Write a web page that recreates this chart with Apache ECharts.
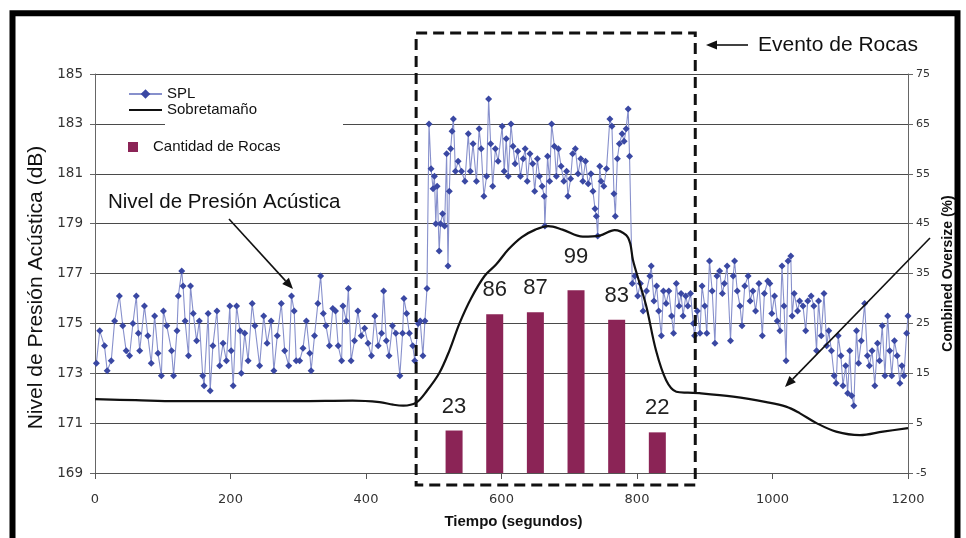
<!DOCTYPE html>
<html>
<head>
<meta charset="utf-8">
<script src="https://cdn.jsdelivr.net/npm/echarts@6/dist/echarts.min.js"></script>
<style>
html,body{margin:0;padding:0;background:#fff;}
#c{width:966px;height:538px;}
</style>
</head>
<body>
<div id="c"></div>
<script>
// ---------------- DATA ----------------
const xTicks = [0, 200, 400, 600, 800, 1000, 1200];
const leftTicks = [169, 171, 173, 175, 177, 179, 181, 183, 185];
const rightTicks = [-5, 5, 15, 25, 35, 45, 55, 65, 75];

// SPL (dB) vs time (s)
const splTime = [
  2,7,14,18,24,29,36,41,46,51,56,61,64,66,73,78,83,88,93,98,101,106,113,116,121,123,128,130,133,138,141,145,150,154,159,161,167,170,174,180,184,189,194,
  199,201,204,209,214,216,221,226,232,236,243,249,254,260,264,269,275,280,286,290,294,297,302,307,312,317,319,324,329,333,337,341,346,351,355,359,364,366,371,374,378,383,388,393,
  398,403,408,413,418,423,426,430,434,439,444,450,454,456,460,464,469,472,477,480,484,487,490,
  493,496,499,501,503,505,508,510,513,516,519,521,523,525,527,529,532,536,541,546,551,554,558,563,567,570,574,578,581,584,587,591,595,
  601,604,607,610,614,617,620,624,628,632,635,638,642,646,649,653,656,660,663,664,668,671,674,678,681,684,688,692,696,698,702,705,709,713,717,720,724,728,732,735,738,740,742,745,747,751,755,760,763,766,768,771,774,778,781,784,787,789,793,
  797,801,805,809,814,819,821,825,829,832,836,839,843,847,851,854,858,862,865,868,872,875,879,883,885,889,893,896,900,903,907,911,915,918,922,926,929,933,938,942,944,948,952,955,959,964,967,971,975,980,985,988,993,
  996,999,1003,1007,1011,1014,1017,1020,1023,1027,1029,1032,1037,1040,1045,1049,1052,1057,1061,1065,1068,1072,1076,1080,1083,1087,1091,1094,1097,1101,1104,1108,1111,1114,1117,1120,1124,1127,1131,1136,1140,1143,1147,1151,1155,1158,1162,1166,1170,1173,1176,1180,1184,1188,1191,1194,1198,1200
];
const splDb = [
  173.4,174.7,174.1,173.1,173.5,175.1,176.1,174.9,173.9,173.7,175.0,176.1,174.6,173.9,175.7,174.5,173.4,175.3,173.8,172.9,175.5,174.9,173.9,172.9,174.7,176.1,177.1,176.5,175.1,173.7,176.5,175.4,174.3,175.1,172.9,172.5,175.4,172.3,174.1,175.5,173.3,174.2,173.5,
  175.7,173.9,172.5,175.7,174.7,173.0,174.6,173.5,175.8,174.9,173.3,175.3,174.2,175.1,173.1,174.5,175.8,173.9,173.3,176.1,175.5,173.5,173.5,174.0,175.1,173.8,173.1,174.5,175.8,176.9,175.4,174.9,174.1,175.6,175.5,174.1,173.5,175.7,175.1,176.4,173.5,174.3,175.5,174.5,
  174.8,174.2,173.7,175.3,174.1,174.6,176.3,174.3,173.7,174.9,174.6,172.9,174.6,176.0,175.4,174.6,174.1,173.5,175.0,175.1,173.7,175.1,176.4,
  183.0,181.2,180.4,180.9,179.0,180.5,177.9,179.0,179.4,178.9,181.8,177.3,180.3,182.0,182.7,183.2,181.1,181.5,181.1,180.7,182.6,181.1,182.2,180.7,182.8,182.0,180.1,180.9,184.0,182.2,180.5,182.0,181.5,
  182.9,181.1,182.4,180.9,183.0,182.1,181.4,181.9,180.9,181.6,182.0,180.7,181.8,181.4,180.3,181.6,180.9,180.5,180.1,178.9,181.7,180.7,183.0,182.1,180.9,182.0,181.3,180.7,181.1,180.1,180.8,181.8,182.0,181.0,181.6,180.7,181.5,180.6,181.0,180.3,179.6,179.3,178.5,181.3,180.7,180.5,181.2,183.2,182.9,180.2,179.3,181.6,182.2,182.6,182.3,182.8,183.6,181.7,176.6,
  176.9,176.1,176.6,175.5,176.3,176.9,177.3,175.9,176.5,175.5,174.5,176.3,175.8,176.3,175.3,174.6,176.6,175.7,176.2,175.3,176.1,175.7,176.2,175.0,174.5,175.5,174.6,176.5,175.7,174.6,177.5,176.3,174.2,176.9,177.1,176.2,176.6,177.3,174.3,176.9,177.5,176.3,175.7,174.9,176.5,176.9,175.9,176.3,175.5,176.6,174.5,176.2,176.7,
  176.6,175.4,176.1,175.1,174.7,177.3,175.7,173.5,177.5,177.7,175.3,176.2,175.5,175.9,175.7,174.7,175.9,176.1,175.7,173.9,175.9,174.5,176.2,174.1,174.7,173.9,172.9,172.6,174.5,173.7,172.5,173.3,172.2,173.9,172.1,171.7,174.7,173.4,174.3,175.8,173.7,173.3,173.9,172.5,174.2,173.5,174.9,172.9,175.3,173.9,172.9,174.3,173.7,172.6,173.3,172.9,174.6,175.3
];

// Sobretamaño / Combined oversize (%) vs time (s)
const ovTime = [0,60,120,200,300,380,420,440,455,474,490,508,523,538,555,575,592,610,630,650,669,690,720,745,767,784,790,794,804,814,828,843,858,875,892,942,991,1020,1040,1065,1094,1129,1163,1200];
const ovPct  = [9.8,9.6,9.4,9.4,9.4,9.5,9.2,8.7,8.5,9.1,11.5,15.0,19.5,25.0,30.0,34.5,36.8,39.8,42.3,43.8,44.5,43.8,42.4,42.6,43.7,42.7,41.0,37.7,33.0,28.3,19.6,13.6,11.3,11.1,11.0,10.3,9.2,8.3,7.0,5.0,3.3,2.6,3.3,4.0];

// Cantidad de Rocas
const rockTime = [530, 590, 650, 710, 770, 830];
const rockCount = [23, 86, 87, 99, 83, 22];

// Annotation window (s) for "Evento de Rocas"
const eventWindow = [474, 886];

// ---------------- CHART ----------------
const chart = echarts.init(document.getElementById('c'), null, {renderer: 'canvas'});
const baseL = leftTicks[0], baseR = rightTicks[0];
const AR = 'Liberation Sans, Arial, sans-serif';
const TK = 'DejaVu Sans, sans-serif';
const maxCount = Math.max.apply(null, rockCount);

const option = {
  animation: false,
  backgroundColor: '#fff',
  grid: {left: 95, right: 58, top: 74, bottom: 65, containLabel: false},
  legend: [
    {
      data: [{name: 'SPL'}, {name: 'Sobretamaño', itemStyle: {opacity: 0}}],
      orient: 'vertical', left: 128, top: 86, itemWidth: 33, itemHeight: 12, itemGap: 0,
      selectedMode: false, z: 10, padding: 0,
      textStyle: {fontSize: 15, fontFamily: AR, color: '#111', lineHeight: 16}
    },
    {
      data: [{name: 'Cantidad de Rocas', icon: 'rect'}],
      left: 128, top: 139, itemWidth: 10, itemHeight: 10, selectedMode: false, z: 10, padding: 0,
      textStyle: {fontSize: 15, fontFamily: AR, color: '#111', lineHeight: 16, padding: [0, 0, 0, 10]}
    }
  ],
  xAxis: {
    type: 'value', min: xTicks[0], max: xTicks[xTicks.length - 1], interval: xTicks[1] - xTicks[0],
    axisLine: {show: true, lineStyle: {color: '#555', width: 1}},
    axisTick: {show: true, length: 6, lineStyle: {color: '#555'}},
    splitLine: {show: false},
    axisLabel: {margin: 20, fontSize: 13, color: '#333', fontFamily: TK, formatter: v => String(v)},
    name: 'Tiempo (segundos)', nameLocation: 'middle', nameGap: 41,
    nameTextStyle: {fontSize: 15, fontWeight: 'bold', color: '#111', fontFamily: AR, padding: [0, 0, 0, 24]}
  },
  yAxis: [
    {
      type: 'value', position: 'left', min: 0, max: leftTicks[leftTicks.length - 1] - baseL,
      interval: leftTicks[1] - leftTicks[0],
      axisLine: {show: true, lineStyle: {color: '#666', width: 1}},
      axisTick: {show: true, length: 5, lineStyle: {color: '#666'}},
      splitLine: {show: true, lineStyle: {color: '#4a4a4a', width: 1.2}},
      axisLabel: {margin: 12, fontSize: 13.5, color: '#333', fontFamily: TK, formatter: v => String(v + baseL)},
      name: 'Nivel de Presión Acústica (dB)', nameLocation: 'middle', nameRotate: 90, nameGap: 47,
      nameTextStyle: {fontSize: 21, color: '#111', fontFamily: AR, padding: [0, 28, 0, 0]}
    },
    {
      type: 'value', position: 'right', min: 0, max: rightTicks[rightTicks.length - 1] - baseR,
      interval: rightTicks[1] - rightTicks[0],
      axisLine: {show: true, lineStyle: {color: '#666', width: 1}},
      axisTick: {show: true, length: 5, lineStyle: {color: '#666'}},
      splitLine: {show: false},
      axisLabel: {margin: 8, fontSize: 11, color: '#333', fontFamily: TK, formatter: v => String(v + baseR)},
      name: 'Combined Oversize (%)', nameLocation: 'middle', nameRotate: 90, nameGap: 32,
      nameTextStyle: {fontSize: 14, fontWeight: 'bold', color: '#111', fontFamily: AR}
    },
    {type: 'value', show: false, min: 0, max: 216, splitLine: {show: false}}
  ],
  series: [
    {
      name: 'SPL', type: 'line', xAxisIndex: 0, yAxisIndex: 0,
      data: splTime.map((t, i) => [t, +(splDb[i] - baseL).toFixed(2)]),
      symbol: 'diamond', symbolSize: 7, showSymbol: true,
      lineStyle: {color: '#8790cc', width: 1.1},
      itemStyle: {color: '#3a48a3'},
      z: 3
    },
    {
      name: 'Sobretamaño', type: 'line', xAxisIndex: 0, yAxisIndex: 1,
      data: ovTime.map((t, i) => [t, +(ovPct[i] - baseR).toFixed(2)]),
      smooth: 0.35, symbol: 'none', showSymbol: false,
      lineStyle: {color: '#111', width: 2.2},
      itemStyle: {color: '#111'},
      z: 4
    },
    {
      name: 'Cantidad de Rocas', type: 'bar', xAxisIndex: 0, yAxisIndex: 2,
      data: rockTime.map((t, i) => [t, rockCount[i]]),
      barWidth: 17,
      itemStyle: {color: '#8b2456'},
      label: {show: true, position: 'top', fontSize: 22, color: '#222', fontFamily: AR,
        distance: 13,
        formatter: p => String(p.value[1])},
      z: 2
    }
  ]
};
// the tallest bar's label sits a little higher in the reference
option.series[2].data = option.series[2].data.map(d =>
  d[1] === maxCount ? {value: d, label: {distance: 22}} : d);
chart.setOption(option);

// ---------------- ANNOTATIONS ----------------
const px = v => chart.convertToPixel({xAxisIndex: 0}, v);
const py = v => chart.convertToPixel({yAxisIndex: 0}, v - baseL);

function arrow(x1, y1, x2, y2, w) {
  const ang = Math.atan2(y2 - y1, x2 - x1);
  const L = 11, H = 4.5;
  const bx = x2 - L * Math.cos(ang), by = y2 - L * Math.sin(ang);
  const nx = -Math.sin(ang), ny = Math.cos(ang);
  return [
    {type: 'line', z: 20, shape: {x1: x1, y1: y1, x2: bx, y2: by}, style: {stroke: '#111', lineWidth: w || 1.6}},
    {type: 'polygon', z: 20, shape: {points: [[x2, y2], [bx + nx * H, by + ny * H], [bx - nx * H, by - ny * H]]}, style: {fill: '#111'}}
  ];
}

const boxL = px(eventWindow[0]), boxR = px(eventWindow[1]);
const boxT = py(186.64), boxB = py(168.52);

const graphics = [
  {type: 'rect', z: 30, shape: {x: 12.5, y: 13.3, width: 945, height: 620},
    style: {fill: 'none', stroke: '#000', lineWidth: 6}},
  {type: 'rect', z: 5, shape: {x: 165, y: 119, width: 178, height: 10}, style: {fill: '#fff'}},
  {type: 'rect', z: 15, shape: {x: boxL, y: boxT, width: boxR - boxL, height: boxB - boxT},
    style: {fill: 'none', stroke: '#111', lineWidth: 3, lineDash: [11, 6]}},
  {type: 'text', z: 20, style: {x: 108, y: 202, text: 'Nivel de Presión Acústica', font: '20.5px ' + AR, fill: '#111', verticalAlign: 'middle'}},
  {type: 'text', z: 20, style: {x: 758, y: 45, text: 'Evento de Rocas', font: '21px ' + AR, fill: '#111', verticalAlign: 'middle'}}
].concat(arrow(229, 219, 293, 289), arrow(748, 45, 706, 45), arrow(930, 238, 785, 387));

chart.setOption({graphic: {elements: graphics}});
</script>
</body>
</html>
